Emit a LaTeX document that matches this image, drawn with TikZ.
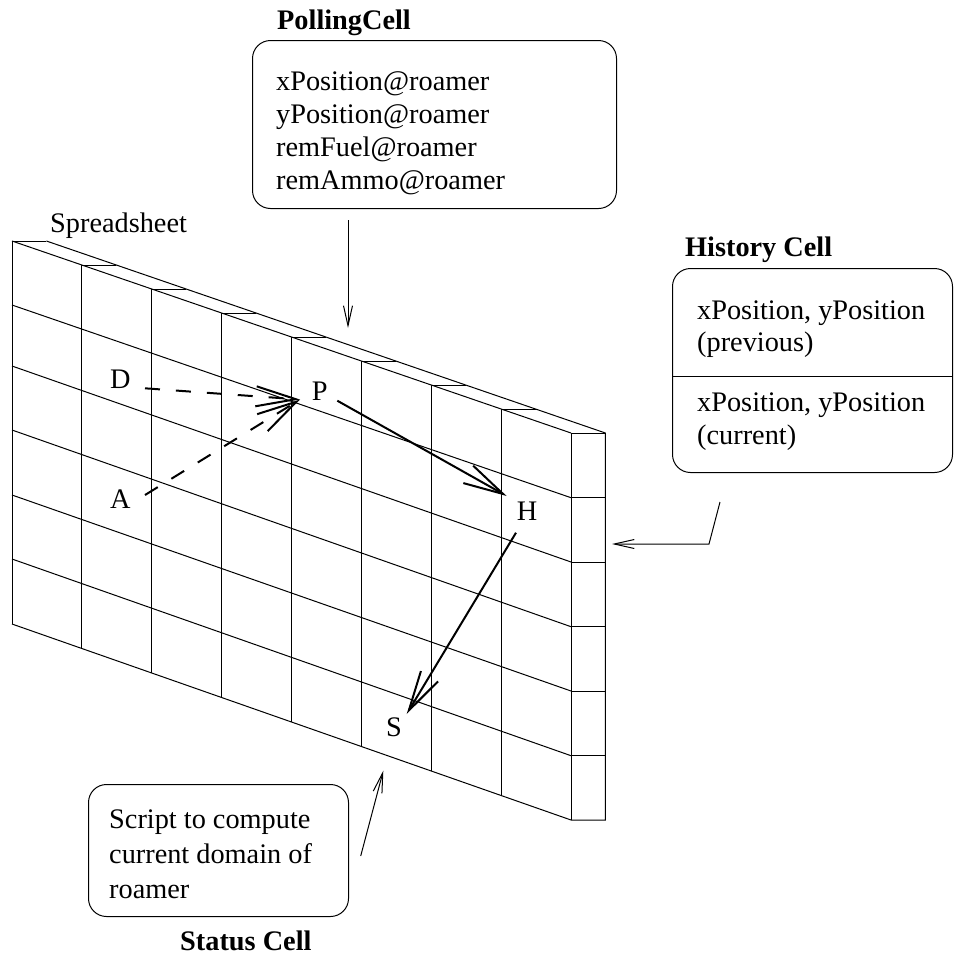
\documentclass[tikz,border=0pt]{standalone}
\usepackage{fontspec}
\setmainfont{Liberation Serif}
\usetikzlibrary{arrows.meta}
\begin{document}
\begin{tikzpicture}[x=1pt,y=-1pt,
  grid/.style={line width=1pt},
  thinarrow/.style={line width=1pt, -{Straight Barb[length=20pt,width=9pt]}},
  thickarrow/.style={line width=2pt, -{Straight Barb[length=40pt,width=20pt]}},
  cellbox/.style={draw, line width=1pt, rounded corners=18pt, inner sep=0pt, anchor=north west},
  txt/.style={font=\fontsize{28.3}{30}\selectfont, inner sep=0pt, anchor=base west},
  ttl/.style={txt, font=\fontsize{28.3}{30}\selectfont\bfseries}]
\useasboundingbox (0,0) rectangle (954,956);

% ---- spreadsheet: front face columns and top depth ticks
\foreach \j in {0,...,8} {
  \pgfmathsetmacro\xx{12+69.875*\j}
  \pgfmathsetmacro\yt{241+24*\j}
  \pgfmathsetmacro\yb{624+24.5*\j}
  \draw[grid] (\xx,\yt) -- (\xx,\yb);
  \draw[grid] (\xx,\yt) -- (\xx+34.4,\yt);
}
% rows of the front face
\foreach \l/\r in {241/433, 305/497.7, 366/562, 430/626.7, 495/691, 559/755.7, 624/820}
  \draw[grid] (12,\l) -- (571,\r);
% back top edge and side face
\draw[grid] (46.4,241) -- (605.4,433) -- (605.4,820) -- (571,820);
\foreach \r in {497.7, 562, 626.7, 691, 755.7}
  \draw[grid] (571,\r) -- (605.4,\r);

\node[txt] (sheet) at (50,232) {Spreadsheet};

% ---- PollingCell
\node[ttl] (pollT) at (277,29) {PollingCell};
\node[cellbox, minimum width=364pt, minimum height=168pt] (poll) at (252,40) {};
\node[txt] (p1) at (276,90) {xPosition@roamer};
\node[txt] (p2) at (276,123) {yPosition@roamer};
\node[txt] (p3) at (276,156) {remFuel@roamer};
\node[txt] (p4) at (276,189) {remAmmo@roamer};
\coordinate (pollFrom) at (348,220);
\coordinate (pollTo) at (348,328);
\draw[thinarrow] (pollFrom) -- (pollTo);

% ---- History Cell
\node[ttl] (histT) at (685,256) {History Cell};
\node[cellbox, minimum width=280pt, minimum height=204pt] (hist) at (672,268) {};
\draw[line width=1pt] (672,376) -- (952,376);
\node[txt] (h1) at (697,319) {xPosition, yPosition};
\node[txt] (h2) at (697,351) {(previous)};
\node[txt] (h3) at (697,411) {xPosition, yPosition};
\node[txt] (h4) at (697,444) {(current)};
\coordinate (histA) at (720,502);
\coordinate (histB) at (709,544);
\coordinate (sideTip) at (612,544);
\draw[thinarrow] (histA) -- (histB) -- (sideTip);

% ---- Status Cell
\node[cellbox, minimum width=260pt, minimum height=132pt] (stat) at (88,784) {};
\node[txt] (s1) at (109,828) {Script to compute};
\node[txt] (s2) at (109,863) {current domain of};
\node[txt] (s3) at (109,898) {roamer};
\node[ttl] (statT) at (180,950) {Status Cell};
\coordinate (statFrom) at (360.7,856);
\coordinate (statTo) at (383.3,770.7);
\draw[thinarrow] (statFrom) -- (statTo);

% ---- cells in the sheet and the flow between them
\node[txt] (D) at (110,388) {D};
\node[txt] (A) at (110,508) {A};
\node[txt] (P) at (311.7,400) {P};
\node[txt] (H) at (516.7,520) {H};
\node[txt] (S) at (386,736.7) {S};
\coordinate (dOut) at (145,388.3);
\coordinate (aOut) at (145,495);
\coordinate (pIn) at (300,399.5);
\coordinate (pOut) at (337.3,400.7);
\coordinate (hIn) at (506.7,496);
\coordinate (hOut) at (516,532.7);
\coordinate (sIn) at (406.7,714);
\draw[thickarrow, dash pattern=on 15pt off 16pt] (dOut) -- (pIn);
\draw[thickarrow, dash pattern=on 15pt off 16pt] (aOut) -- (pIn);
\draw[thickarrow] (pOut) -- (hIn);
\draw[thickarrow] (hOut) -- (sIn);
\end{tikzpicture}
\end{document}
